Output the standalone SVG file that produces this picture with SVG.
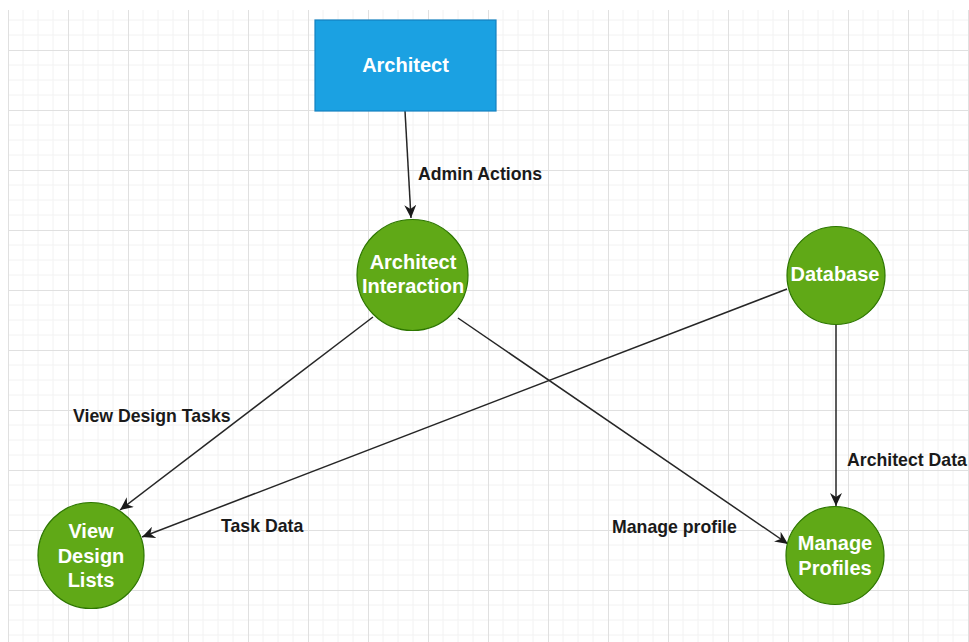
<svg xmlns="http://www.w3.org/2000/svg" width="969" height="642" viewBox="0 0 969 642">
  <defs>
    <pattern id="grid" patternUnits="userSpaceOnUse" x="8" y="-10" width="60" height="60">
      <path d="M15,0V60M30,0V60M45,0V60M0,15H60M0,30H60M0,45H60" stroke="#f2f2f2" stroke-width="1" fill="none"/>
      <path d="M0.5,0V60M0,0.5H60" stroke="#e0e0e0" stroke-width="1" fill="none"/>
    </pattern>
    <marker id="arrow" markerUnits="userSpaceOnUse" markerWidth="14" markerHeight="12" refX="13" refY="6" orient="auto">
      <path d="M0,0 L13,6 L0,12 L4,6 Z" fill="#1a1a1a"/>
    </marker>
  </defs>
  <style>
    .edge { stroke: #262626; stroke-width: 1.5; fill: none; marker-end: url(#arrow); }
    .proc { fill: #60a917; stroke: #2d7600; stroke-width: 1.2; }
    .ext { fill: #1ba1e2; stroke: #1581c0; stroke-width: 1.2; }
    .node-text { font-family: "Liberation Sans", Arial, sans-serif; font-weight: bold; font-size: 20px; fill: #ffffff; text-anchor: middle; }
    .label { font-family: "Liberation Sans", Arial, sans-serif; font-weight: bold; font-size: 17.7px; fill: #1a1a1a; }
  </style>

  <rect width="969" height="642" fill="#ffffff"/>
  <rect x="8" y="10" width="961" height="632" fill="url(#grid)"/>

  <g id="connectors">
    <line class="edge" x1="405" y1="111" x2="411" y2="218"/>
    <line class="edge" x1="373" y1="317" x2="120" y2="510"/>
    <line class="edge" x1="787" y1="289" x2="142" y2="537"/>
    <line class="edge" x1="458" y1="318" x2="788" y2="544"/>
    <line class="edge" x1="836" y1="324" x2="836" y2="506"/>
    <text class="label" x="418" y="180">Admin Actions</text>
    <text class="label" x="73" y="422">View Design Tasks</text>
    <text class="label" x="221" y="532">Task Data</text>
    <text class="label" x="612" y="533">Manage profile</text>
    <text class="label" x="847" y="466">Architect Data</text>
  </g>

  <g id="architect">
    <rect class="ext" x="315" y="20" width="181" height="91"/>
    <text class="node-text" x="405.5" y="72">Architect</text>
  </g>

  <g id="architect-interaction">
    <circle class="proc" cx="412.5" cy="275" r="55.5"/>
    <text class="node-text" x="413" y="269">Architect</text>
    <text class="node-text" x="413" y="293">Interaction</text>
  </g>

  <g id="database">
    <circle class="proc" cx="836" cy="275.5" r="49"/>
    <text class="node-text" x="835" y="281">Database</text>
  </g>

  <g id="view-design-lists">
    <circle class="proc" cx="91" cy="555.5" r="53"/>
    <text class="node-text" x="91" y="538">View</text>
    <text class="node-text" x="91" y="563">Design</text>
    <text class="node-text" x="91" y="587">Lists</text>
  </g>

  <g id="manage-profiles">
    <circle class="proc" cx="835" cy="555.5" r="49"/>
    <text class="node-text" x="835" y="550">Manage</text>
    <text class="node-text" x="835" y="575">Profiles</text>
  </g>
</svg>
